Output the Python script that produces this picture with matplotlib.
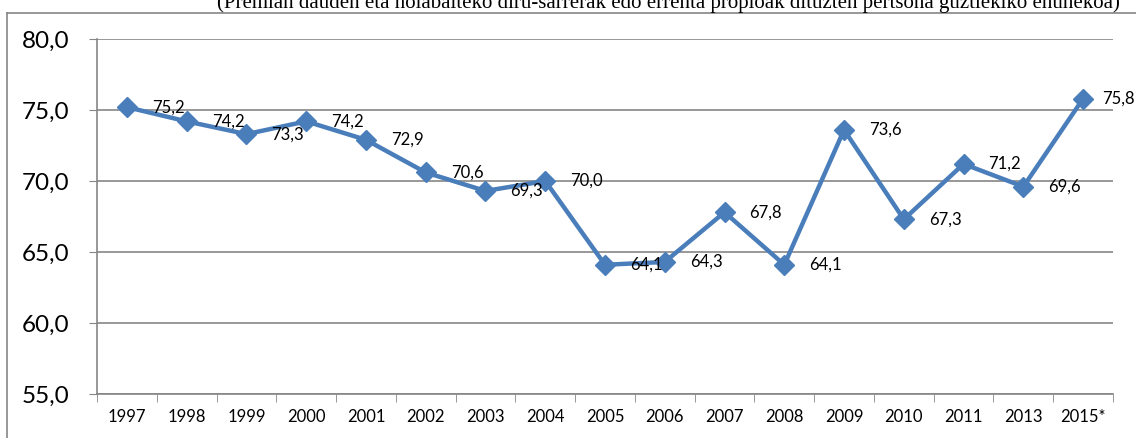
import matplotlib
matplotlib.use("Agg")
import matplotlib.pyplot as plt
from matplotlib.lines import Line2D
from matplotlib.ticker import FuncFormatter

# datos
years = ["1997", "1998", "1999", "2000", "2001", "2002", "2003", "2004", "2005",
         "2006", "2007", "2008", "2009", "2010", "2011", "2013", "2015*"]
values = [75.2, 74.2, 73.3, 74.2, 72.9, 70.6, 69.3, 70.0, 64.1,
          64.3, 67.8, 64.1, 73.6, 67.3, 71.2, 69.6, 75.8]
subtitle = ("(Premian dauden eta nolabaiteko diru-sarrerak edo errenta propioak "
            "dituzten pertsona guztiekiko ehunekoa)")

BLUE = "#4a7ebb"
GRID = "#868686"

plt.rcParams['font.family'] = ['Lato', 'DejaVu Sans']

fig = plt.figure(figsize=(11.36, 4.38), dpi=100)
ax = fig.add_axes([97/1136, 1-394/438, (1113-97)/1136, (394-39)/438])

x = list(range(len(years)))
ax.plot(x, values, color=BLUE, lw=3.2, marker="D", markersize=10,
        markerfacecolor=BLUE, markeredgecolor=BLUE, zorder=3)

for i, v in enumerate(values):
    # la ultima etiqueta se acerca un poco al punto para que quepa
    dx = 14 if i == len(values) - 1 else 18
    ax.annotate(f"{v:.1f}".replace(".", ","), (i, v), xytext=(dx, 0),
                textcoords="offset points", ha="left", va="center",
                fontsize=12, color="black", zorder=4, annotation_clip=False)

ax.set_xlim(-0.5, len(years) - 0.5)
ax.set_ylim(55, 80)
ax.set_yticks([55, 60, 65, 70, 75, 80])
ax.yaxis.set_major_formatter(FuncFormatter(lambda v, p: f"{v:.1f}".replace(".", ",")))
ax.tick_params(axis="y", labelsize=17.5, length=6, color=GRID, pad=14)
ax.yaxis.grid(True, color=GRID, lw=1.2)
ax.set_axisbelow(True)

ax.set_xticks(x)
ax.set_xticklabels(years)
ax.set_xticks([i - 0.5 for i in range(len(years) + 1)], minor=True)
ax.tick_params(axis="x", which="major", length=0, labelsize=12, pad=11)
ax.tick_params(axis="x", which="minor", length=6, color=GRID, direction="out")

for s in ["top", "right"]:
    ax.spines[s].set_visible(False)
for s in ["left", "bottom"]:
    ax.spines[s].set_color(GRID)
    ax.spines[s].set_linewidth(1.2)

# marco del grafico
fig.add_artist(Line2D([7/1136, 7/1136], [0, 1-13/438], color=GRID, lw=1.2))
fig.add_artist(Line2D([7/1136, 1], [1-13/438, 1-13/438], color=GRID, lw=1.2))

fig.text(668/1136, 1-8/438, subtitle, ha="center", va="baseline",
         fontsize=15, family="Liberation Serif")

fig.savefig("out.png", dpi=100)
